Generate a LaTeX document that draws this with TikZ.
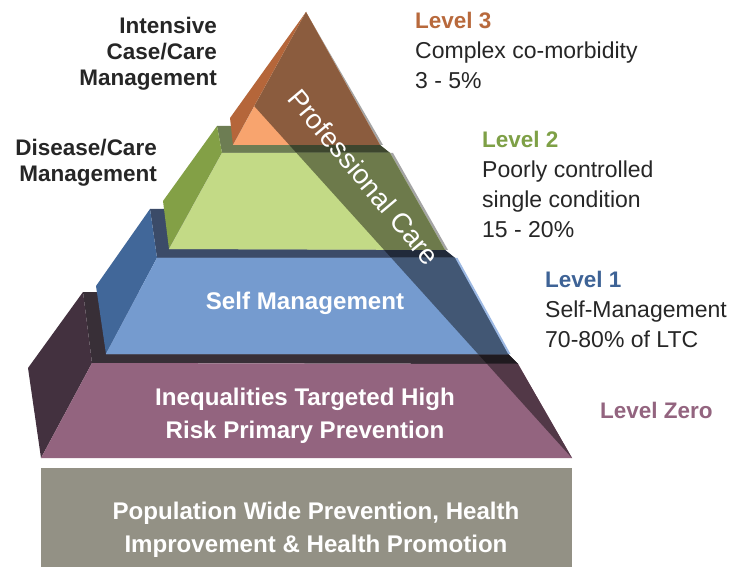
\documentclass[tikz,border=0pt]{standalone}
\usepackage{fontspec}
\setmainfont{Liberation Sans}
\definecolor{tthreeS}{HTML}{B5663A}
\definecolor{tthreeF}{HTML}{F8A46E}
\definecolor{ttwoS}{HTML}{83A046}
\definecolor{ttwoF}{HTML}{C3DA86}
\definecolor{ttwoT}{HTML}{6D7D53}
\definecolor{toneS}{HTML}{416799}
\definecolor{toneF}{HTML}{759BCF}
\definecolor{toneT}{HTML}{3B4B68}
\definecolor{tzeroS}{HTML}{43313F}
\definecolor{tzeroF}{HTML}{93647F}
\definecolor{tzeroT}{HTML}{382F37}
\definecolor{baseF}{HTML}{939185}
\definecolor{labelc}{HTML}{262626}
\definecolor{lthree}{HTML}{B8693C}
\definecolor{ltwo}{HTML}{7EA046}
\definecolor{lone}{HTML}{3E6396}
\definecolor{lzero}{HTML}{93647F}
\definecolor{edgegray}{HTML}{A4A4A4}
\definecolor{edgeblue}{HTML}{9DB9E3}
\colorlet{tthreeFd}{tthreeF!56!black}
\colorlet{ttwoFd}{ttwoF!56!black}
\colorlet{ttwoTd}{ttwoT!56!black}
\colorlet{toneFd}{toneF!56!black}
\colorlet{toneTd}{toneT!56!black}
\colorlet{tzeroFd}{tzeroF!56!black}
\colorlet{tzeroTd}{tzeroT!56!black}
\newcommand\bandpath{(158.4,0) -- (582.8,470) -- (740,470) -- (740,0) -- cycle}
\newcommand\face[3]{%
  \fill[#2] #1;
  \begin{scope}\clip #1; \fill[#3] \bandpath; \end{scope}}
\begin{document}
\begin{tikzpicture}[x=1pt,y=-1pt]
\tikzset{
  lbl/.style={text=labelc, font=\fontsize{22.5}{26}\selectfont\bfseries, align=right, inner sep=0pt},
  desc/.style={text=labelc, font=\fontsize{23}{30}\selectfont, align=left, inner sep=0pt, anchor=west},
  wlbl/.style={text=white, font=\fontsize{24.1}{33}\selectfont\bfseries, align=center, inner sep=0pt},
  pcare/.style={text=white, font=\fontsize{27.5}{30}\selectfont, inner sep=0pt, rotate=-50},
}
\useasboundingbox (0,0) rectangle (733,569);
\fill[white] (0,0) rectangle (733,569);

% base
\fill[baseF] (41,468) rectangle (572,567);

% tier 0
\face{(83,292) -- (475,292) -- (508,354) -- (518,364) -- (92,363) -- cycle}{tzeroT}{tzeroTd}
\fill[tzeroS] (83,292) -- (28,368) -- (41,458) -- (92,363) -- cycle;
\face{(92,363) -- (518,364) -- (572,458) -- (41,458) -- cycle}{tzeroF}{tzeroFd}

% tier 1
\face{(150,209) -- (421,209) -- (445,250) -- (455,258) -- (157,258) -- cycle}{toneT}{toneTd}
\fill[toneS] (150,209) -- (96,286) -- (106,354) -- (157,258) -- cycle;
\fill[edgeblue] (157,258) -- (457.5,258) -- (510.5,354) -- (106,354) -- cycle;
\face{(157,258) -- (455,258) -- (508,354) -- (106,354) -- cycle}{toneF}{toneFd}

% tier 2
\face{(217,126) -- (369,126) -- (380,145) -- (390,153) -- (222,153) -- cycle}{ttwoT}{ttwoTd}
\fill[ttwoS] (217,126) -- (163,201) -- (169,249) -- (222,153) -- cycle;
\fill[edgegray] (222,153) -- (393,153) -- (448,250) -- (169,249) -- cycle;
\face{(222,153) -- (390,153) -- (445,250) -- (169,249) -- cycle}{ttwoF}{ttwoFd}

% tier 3
\fill[tthreeS] (306,12) -- (230,118) -- (233,145) -- cycle;
\fill[edgegray] (306,12) -- (383,145) -- (233,145) -- cycle;
\face{(306,12) -- (233,145) -- (380,145) -- cycle}{tthreeF}{tthreeFd}

% professional care
\node[pcare] (pc) at (364,177) {Professional Care};

% white labels
\node[wlbl] (self) at (305,303) {Self Management};
\node[wlbl] (ineq) at (305,416) {Inequalities Targeted High\\Risk Primary Prevention};
\node[wlbl] (pop) at (316,530) {Population Wide Prevention, Health\\Improvement \& Health Promotion};

% left labels
\node[lbl, anchor=east] (intensive) at (217,54) {Intensive\\Case/Care\hspace*{7pt}\\Management};
\node[lbl, anchor=east] (disease) at (157,163) {Disease/Care\\Management};

% right labels
\node[desc] (lv3) at (415,50) {{\bfseries\color{lthree}\fontsize{22.5}{30}\selectfont Level 3}\\Complex co-morbidity\\3 - 5\%};
\node[desc] (lv2) at (482,184) {{\bfseries\color{ltwo}\fontsize{22.5}{30}\selectfont Level 2}\\Poorly controlled\\single condition\\15 - 20\%};
\node[desc] (lv1) at (545,309) {{\bfseries\color{lone}\fontsize{22.5}{30}\selectfont Level 1}\\Self-Management\\70-80\% of LTC};
\node[desc, text=lzero, font=\fontsize{22.5}{30}\selectfont\bfseries] (lv0) at (600,410) {Level Zero};
\end{tikzpicture}
\end{document}
